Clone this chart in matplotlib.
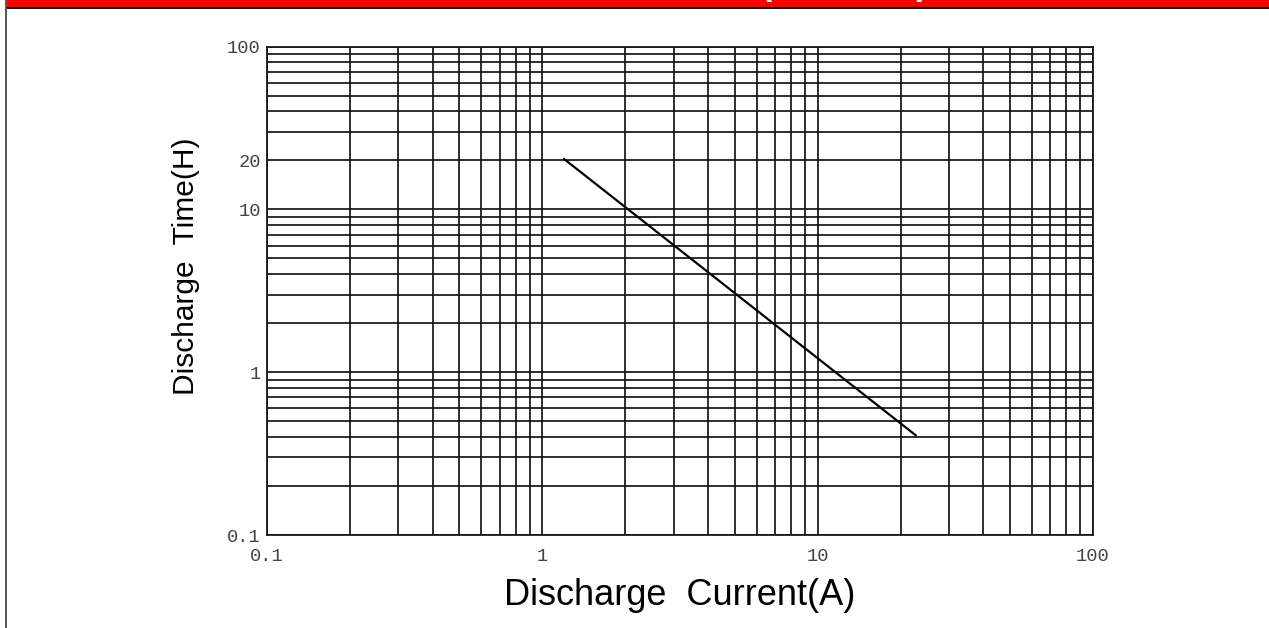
import matplotlib
matplotlib.use('Agg')
import matplotlib.pyplot as plt
from matplotlib.lines import Line2D
from matplotlib.patches import Rectangle

# data
current = [1.2, 22.7]
hours = [20.4, 0.41]
x_ticks = [0.1, 1, 10, 100]
x_labels = ['0.1', '1', '10', '100']
y_ticks = [0.1, 1, 10, 20, 100]
y_labels = ['0.1', '1', '10', '20', '100']

W, H = 1269, 628
fig = plt.figure(figsize=(W / 100, H / 100), dpi=100)

# red banner at the top, cropped
fig.patches.append(Rectangle((7 / W, 1 - 7 / H), 1, 7 / H, transform=fig.transFigure,
                             facecolor='#ff0000', edgecolor='none', zorder=0))
fig.lines.append(Line2D([7 / W, 1], [1 - 7.5 / H, 1 - 7.5 / H], transform=fig.transFigure,
                        color='black', lw=1.3))
fig.lines.append(Line2D([6.5 / W, 6.5 / W], [0, 1], transform=fig.transFigure,
                        color='#555555', lw=1.4))
fig.text(929 / W, 1 + 3 / H, 'DISCHARGE CHARACTERISTICS (AT 25°C)', color='white',
         fontsize=23, fontweight='bold', ha='right', va='baseline')

ax = fig.add_axes([267 / W, 1 - 535 / H, (1093 - 267) / W, (535 - 46.7) / H])
ax.set_xscale('log')
ax.set_yscale('log')
ax.set_xlim(0.1, 100)
ax.set_ylim(0.1, 100)

ax.grid(True, which='both', color='#141414', lw=1.25)
ax.set_axisbelow(True)
ax.plot(current, hours, color='black', lw=1.6)

ax.set_xticks(x_ticks)
ax.set_xticklabels(x_labels)
ax.set_yticks(y_ticks)
ax.set_yticklabels(y_labels)
ax.tick_params(which='both', length=0)
ax.tick_params(axis='x', pad=9.5)
ax.tick_params(axis='y', pad=4.5)
for lab in ax.get_xticklabels() + ax.get_yticklabels():
    lab.set_fontfamily('Liberation Mono')
    lab.set_fontsize(13.5)
    lab.set_color('#444444')

for sp in ax.spines.values():
    sp.set_color('#141414')
    sp.set_linewidth(1.25)

ax.set_xlabel('Discharge  Current(A)', fontfamily='Liberation Sans', fontsize=26)
ax.set_ylabel('Discharge  Time(H)', fontfamily='Liberation Sans', fontsize=21.5)
ax.xaxis.set_label_coords(0.5, -0.088)
ax.yaxis.set_label_coords(-0.081, 0.551)

fig.savefig('out.png', dpi=100)
